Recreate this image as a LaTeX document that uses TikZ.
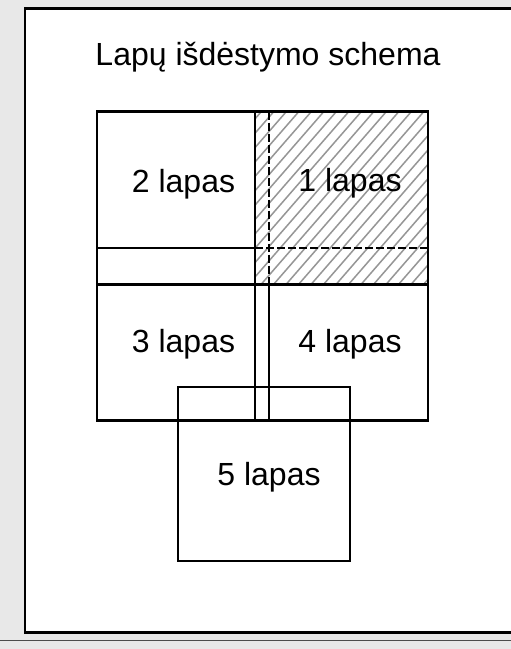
\documentclass[tikz,border=0pt]{standalone}
\usepackage{fontspec}
\setmainfont{Liberation Sans}
\definecolor{bgcol}{RGB}{232,232,232}
\definecolor{hatchcol}{RGB}{150,150,150}
\begin{document}
\begin{tikzpicture}[x=1pt,y=-1pt,
  edge/.style={black,line width=2.2pt},
  dashedge/.style={black,line width=2.2pt,dash pattern=on 8pt off 3pt},
  lbl/.style={anchor=base,inner sep=0pt,font=\fontsize{32}{38}\selectfont}]
\useasboundingbox (0,0) rectangle (511,649);
% background
\fill[bgcol] (0,0) rectangle (511,649);
\filldraw[fill=white,draw=black,line width=2.5pt] (25,8.5) rectangle (530,632.5);
\draw[black!70,line width=1.5pt] (0,640.5) -- (511,640.5);
% hatched sheet 1
\begin{scope}
  \clip (255,111.5) rectangle (428,284.5);
  \foreach \s in {0,12.5,...,400} {
    \draw[hatchcol,line width=1.5pt] (\s+60,300) -- ++(220,-253);
  }
\end{scope}
% grid
\draw[edge] (97,111.5) rectangle (428,420.5);
\draw[edge] (255,111.5) -- (255,420.5);
\draw[dashedge] (269,111.5) -- (269,284.5);
\draw[edge] (269,284.5) -- (269,420.5);
\draw[edge] (97,248) -- (255,248);
\draw[dashedge] (255,248) -- (428,248);
\draw[edge] (97,284.5) -- (428,284.5);
% sheet 5
\draw[edge] (178,387) rectangle (350,561);
% labels
\node[lbl] (title) at (268,65) {Lapų išdėstymo schema};
\node[lbl] (l2) at (183.5,192) {2 lapas};
\node[lbl] (l1) at (350,191) {1 lapas};
\node[lbl] (l3) at (183.5,352) {3 lapas};
\node[lbl] (l4) at (350,352) {4 lapas};
\node[lbl] (l5) at (269,485) {5 lapas};
\end{tikzpicture}
\end{document}
